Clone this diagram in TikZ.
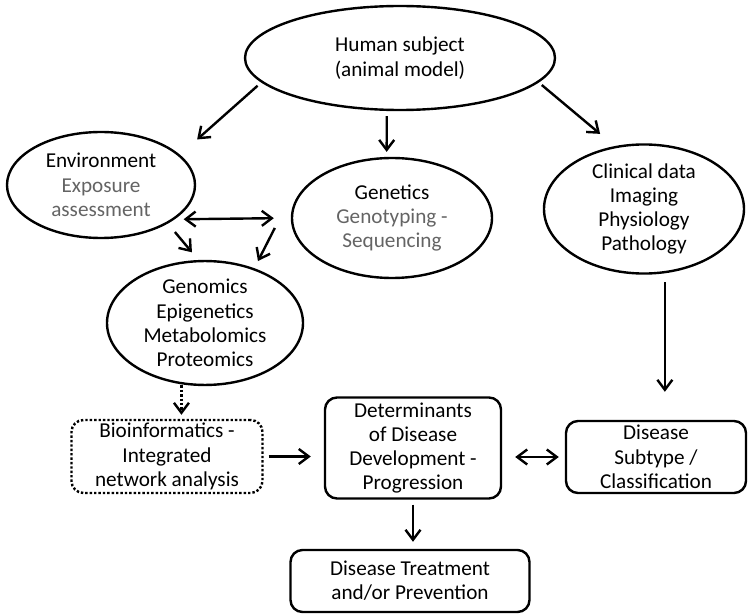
\documentclass[tikz,border=0pt]{standalone}
\usepackage{fontspec}
\setmainfont{Carlito}
\usepackage{tikz}
\usepackage{xcolor}
\usetikzlibrary{shapes.geometric, arrows.meta}
\definecolor{subgray}{RGB}{100,100,100}

\begin{document}
\begin{tikzpicture}[x=1pt, y=1pt,
        ell/.style={ellipse, draw, line width=2.4pt, inner sep=0pt, align=center, font=\fontsize{21.2}{24.3}\selectfont},
        box/.style={rectangle, rounded corners=12pt, draw, line width=2.4pt, inner sep=0pt, align=center, font=\fontsize{21.2}{24.3}\selectfont},
        arr/.style={-{Straight Barb[length=10pt, width=15pt]}, line width=2.4pt},
        arrr/.style={{Straight Barb[length=10pt, width=15pt]}-{Straight Barb[length=10pt, width=15pt]}, line width=2.4pt}]
        \useasboundingbox (0,0) rectangle (748,-615);

        \node[ell, minimum width=310, minimum height=104] (hum) at (400, -58) {Human subject\\(animal model)};
        \node[ell, minimum width=188, minimum height=106] (env) at (101, -185) {Environment\\\textcolor{subgray}{Exposure}\\\textcolor{subgray}{assessment}};
        \node[ell, minimum width=200, minimum height=120] (gen) at (392, -218) {Genetics\\\textcolor{subgray}{Genotyping -}\\\textcolor{subgray}{Sequencing}};
        \node[ell, minimum width=200, minimum height=120] (cli) at (644, -209) {Clinical data\\Imaging\\Physiology\\Pathology};
        \node[ell, minimum width=196, minimum height=114] (gmx) at (205, -323) {Genomics\\Epigenetics\\Metabolomics\\Proteomics};
        \node[box, dotted, minimum width=191, minimum height=73] (bio) at (167, -456.5) {Bioinformatics -\\Integrated\\network analysis};
        \node[box, minimum width=176, minimum height=101] (det) at (413, -448) {Determinants\\of Disease\\Development -\\Progression};
        \node[box, minimum width=180, minimum height=72] (sub) at (656, -457) {Disease\\Subtype /\\Classification};
        \node[box, minimum width=239, minimum height=62] (trt) at (410, -581) {Disease Treatment\\and/or Prevention};

        \draw[arr, shorten <=5pt, shorten >=23pt] (hum.190) to (env.21);
        \draw[arr, shorten <=5pt, shorten >=5pt] (hum.256) to (gen.95);
        \draw[arr, shorten <=4pt, shorten >=19pt] (hum.350) to (cli.115);
        \draw[arrr, shorten <=9pt, shorten >=17pt] (env.335) to (gen.180);
        \draw[arr, shorten <=11pt, shorten >=10pt] (env.330) to (gmx.96);
        \draw[arr, shorten >=8pt] ([xshift=-16pt, yshift=-10pt]gen.west) to (gmx.48);
        \draw[arr, dotted, shorten <=1pt, shorten >=4pt] (gmx.249) to (gmx.249 |- bio.north);
        \draw[arr, shorten <=5pt, shorten >=13pt] (bio.east) to (bio.east -| det.west);
        \draw[arr, shorten <=9pt, shorten >=28pt] (cli.288) to (cli.288 |- sub.north);
        \draw[arrr, shorten <=13pt, shorten >=6pt] (det.east |- sub.west) to (sub.west);
        \draw[arr, shorten <=5pt, shorten >=7pt] (det.south) to (det.south |- trt.north);
    \end{tikzpicture}
\end{document}
